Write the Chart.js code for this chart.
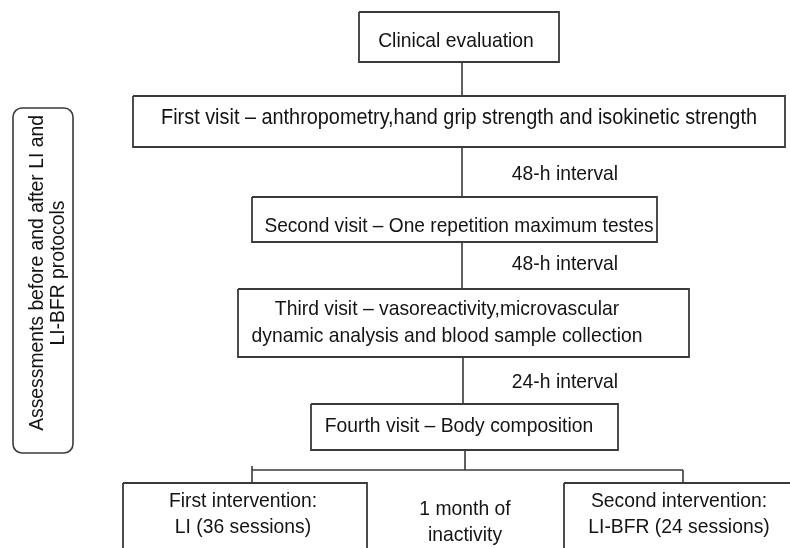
<!DOCTYPE html>
<html>
<head>
<meta charset="utf-8">
<script src="https://cdn.jsdelivr.net/npm/chart.js@4/dist/chart.umd.min.js"></script>
<style>
html,body{margin:0;padding:0;background:#fff;}
#wrap{width:790px;height:548px;}
</style>
</head>
<body>
<div id="wrap"><canvas id="c" width="790" height="548"></canvas></div>
<script>
// ---- diagram content (flowchart nodes in diagram units) ----
const boxLabels = [
  ["Clinical evaluation"],
  ["First visit – anthropometry,hand grip strength and isokinetic strength"],
  ["Second visit – One repetition maximum testes"],
  ["Third visit – vasoreactivity,microvascular", "dynamic analysis and blood sample collection"],
  ["Fourth visit – Body composition"],
  ["First intervention:", "LI (36 sessions)"],
  ["Second intervention:", "LI-BFR (24 sessions)"]
];
const boxLeft   = [359, 133, 252, 238, 311, 123, 564];
const boxRight  = [559, 785, 657, 689, 618, 367, 800];
const boxTop    = [12,  96,  197, 289, 404, 483, 483];
const boxBottom = [62,  147, 242, 357, 450, 560, 560];
const textX     = [456, 459, 459, 447, 459, 243, 679];
const textY     = [47,  124, 232, 315, 432, 507, 507];   // first-line baseline
const lineGap   = [0,   0,   0,   27,  0,   26,  26];

const intervalLabels = ["48-h interval", "48-h interval", "24-h interval"];
const intervalX = [565, 565, 565];
const intervalY = [180, 270, 388];

const middleLabel = ["1 month of", "inactivity"];
const middleX = 465, middleY = 515, middleGap = 26;

const sideLabel = ["Assessments before and after LI and", "LI-BFR protocols"];
const sideBox = {left: 13, right: 73, top: 108, bottom: 453};
const sideTextX = 43, sideTextY = 273, sideGap = 21;

// connectors: [x1, y1, x2, y2]
const connectors = [
  [462, 62, 462, 96],
  [462, 147, 462, 197],
  [462, 242, 462, 289],
  [463, 357, 463, 404],
  [465, 450, 465, 470],
  [252, 470, 683, 470],
  [252, 466, 252, 483],
  [683, 470, 683, 483]
];

// ---- styling ----
const LINE = '#3a3a3a';
const TEXT = '#141414';
const FONT_PX = 21;
const BOX_FONT_PX = [21, 21.6, 20.8, 21, 21, 21, 21];
const SX = 0.92;

const datasets = [];
connectors.forEach(c => {
  datasets.push({
    data: [{x: c[0], y: c[1]}, {x: c[2], y: c[3]}],
    showLine: true, borderColor: LINE, borderWidth: 1.6,
    pointRadius: 0, fill: false, clip: false
  });
});
boxLabels.forEach((_, i) => {
  datasets.push({
    data: [
      {x: boxLeft[i], y: boxTop[i]}, {x: boxRight[i], y: boxTop[i]},
      {x: boxRight[i], y: boxBottom[i]}, {x: boxLeft[i], y: boxBottom[i]},
      {x: boxLeft[i], y: boxTop[i]}
    ],
    showLine: true, borderColor: LINE, borderWidth: 1.8,
    pointRadius: 0, fill: false, clip: false
  });
});

function drawLines(ctx, lines, px, py, gap, rot, size) {
  ctx.save();
  ctx.translate(px, py);
  if (rot) ctx.rotate(rot);
  ctx.scale(SX, 1);
  ctx.fillStyle = TEXT;
  ctx.font = (size || FONT_PX) + 'px "Liberation Sans", Arial, sans-serif';
  ctx.textAlign = 'center';
  ctx.textBaseline = 'alphabetic';
  lines.forEach((t, k) => {
    ctx.fillText(t, 0, k * gap);
  });
  ctx.restore();
}

const textPlugin = {
  id: 'flowText',
  afterDatasetsDraw(chart) {
    const ctx = chart.ctx;
    const xs = chart.scales.x, ys = chart.scales.y;
    const l = xs.getPixelForValue(sideBox.left), r = xs.getPixelForValue(sideBox.right);
    const t = ys.getPixelForValue(sideBox.top), b = ys.getPixelForValue(sideBox.bottom);
    ctx.save();
    ctx.strokeStyle = LINE; ctx.lineWidth = 1.6;
    ctx.beginPath();
    ctx.roundRect(l, t, r - l, b - t, 9);
    ctx.stroke();
    ctx.restore();
    drawLines(ctx, sideLabel, xs.getPixelForValue(sideTextX), ys.getPixelForValue(sideTextY), sideGap, -Math.PI / 2);
    boxLabels.forEach((lines, i) => {
      drawLines(ctx, lines, xs.getPixelForValue(textX[i]), ys.getPixelForValue(textY[i]), lineGap[i], 0, BOX_FONT_PX[i]);
    });
    intervalLabels.forEach((s, i) => {
      drawLines(ctx, [s], xs.getPixelForValue(intervalX[i]), ys.getPixelForValue(intervalY[i]), 0, 0);
    });
    drawLines(ctx, middleLabel, xs.getPixelForValue(middleX), ys.getPixelForValue(middleY), middleGap, 0);
  }
};

new Chart(document.getElementById('c'), {
  type: 'scatter',
  data: {datasets},
  options: {
    responsive: false,
    animation: false,
    layout: {padding: 0},
    scales: {
      x: {type: 'linear', min: 0, max: 790, display: false},
      y: {type: 'linear', min: 0, max: 548, reverse: true, display: false}
    },
    plugins: {legend: {display: false}, tooltip: {enabled: false}}
  },
  plugins: [textPlugin]
});
</script>
</body>
</html>
